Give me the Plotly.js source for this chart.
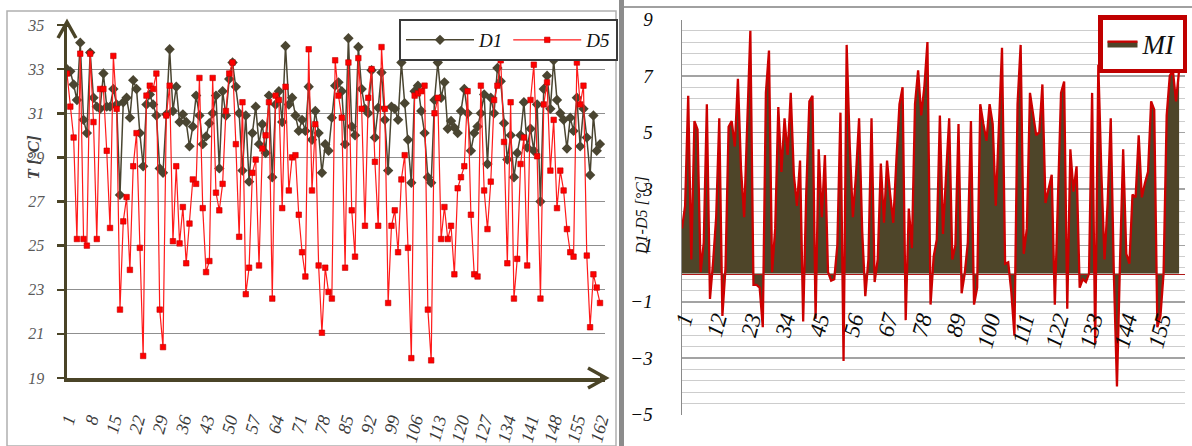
<!DOCTYPE html>
<html>
<head>
<meta charset="utf-8">
<script src="https://cdn.plot.ly/plotly-3.0.1.min.js"></script>
<style>
html,body{margin:0;padding:0;background:#fff;}
#chart{width:1192px;height:446px;}
</style>
</head>
<body>
<div id="chart"></div>
<script>
// ---- data ----
const D1 = [33.0,32.9,32.3,31.6,34.2,30.7,30.1,33.75,31.7,31.3,
 31.2,32.8,31.3,31.3,32.1,31.4,27.3,31.5,31.7,30.8,
 32.5,32.1,30.1,28.6,31.4,31.85,31.4,30.9,28.5,28.3,
 30.95,33.9,31.1,32.2,30.6,30.95,30.6,29.5,30.4,31.8,
 30.9,29.6,29.95,30.55,31.0,31.8,28.5,32.0,30.9,32.55,
 33.3,32.2,31.0,28.4,30.9,27.9,30.1,31.3,29.6,30.5,
 29.2,31.8,28.1,31.4,32.0,30.6,34.05,31.4,31.7,30.9,
 30.2,30.7,30.2,32.2,29.8,31.1,30.1,28.3,29.6,29.3,
 30.8,32.25,32.4,32.0,29.6,34.4,30.4,30.0,34.0,32.1,
 31.2,31.0,32.95,29.9,31.25,32.85,30.7,28.4,31.3,31.2,
 30.7,33.3,31.45,29.8,27.85,32.0,32.25,31.1,30.1,28.1,
 27.85,31.6,33.3,31.7,32.4,30.3,30.65,30.35,30.1,31.1,
 32.1,31.0,29.3,30.1,30.4,31.0,31.85,28.7,31.7,31.0,
 33.05,32.45,30.55,28.9,30.0,28.1,29.2,30.0,31.5,29.45,
 30.3,29.3,31.4,27.0,32.1,32.7,31.2,33.4,31.6,31.0,
 30.7,29.4,30.8,30.2,31.7,29.5,31.2,29.9,28.2,30.9,
 29.3,29.6];

const D5 = [32.8,31.3,29.9,25.3,33.7,25.3,25.0,33.7,30.6,25.3,
 32.1,32.1,29.3,25.8,33.6,31.2,22.1,26.1,27.2,23.9,
 28.6,30.1,24.9,20.0,31.8,32.25,32.1,32.8,22.1,20.4,
 30.9,32.25,25.2,28.6,25.1,26.75,24.2,26.0,28.0,27.8,
 32.6,26.7,23.8,24.3,32.6,27.4,26.6,27.8,31.1,32.8,
 33.3,29.6,25.4,31.5,22.8,24.0,28.3,28.9,24.1,29.4,
 30.0,31.5,22.6,31.8,31.6,26.7,32.2,27.5,29.0,29.1,
 26.4,24.7,23.6,33.9,27.5,30.5,24.1,21.05,24.0,22.9,
 22.6,33.4,31.8,30.8,24.0,33.3,26.6,24.5,33.5,31.2,
 25.9,31.7,33.0,28.8,25.9,34.0,31.2,22.4,25.9,26.6,
 24.7,28.0,29.1,24.9,19.9,31.8,31.9,32.0,32.25,22.1,
 19.8,31.0,31.7,25.3,26.75,25.3,25.9,23.7,27.6,28.1,
 28.6,32.0,26.4,23.7,23.6,32.25,27.5,25.75,27.9,31.6,
 32.25,33.4,29.7,24.2,31.5,22.6,24.4,28.7,29.9,24.1,
 31.6,33.2,29.05,22.6,31.4,32.4,28.4,30.7,26.7,28.4,
 27.5,25.75,24.7,24.5,33.3,31.4,32.25,24.55,21.3,23.7,
 23.1,22.4];

const MI = [1.6,2.4,6.3,0.5,5.4,5.1,0.05,1.1,6.0,-0.9,
 0.4,2.0,5.5,-1.5,0.2,5.2,5.4,4.5,6.9,3.7,
 2.0,5.3,8.6,-0.4,-0.4,-0.5,-1.9,6.4,7.9,0.05,
 1.6,5.9,3.6,5.5,4.2,6.4,3.5,2.4,4.0,-1.7,
 2.9,6.1,6.3,-1.6,4.4,2.0,4.2,0.05,-0.25,-0.2,
 1.0,5.7,-3.1,8.1,4.5,2.0,3.5,5.5,1.5,-0.8,
 0.5,5.5,-0.3,0.5,3.9,1.8,4.0,2.8,1.8,4.0,
 6.0,6.6,-1.65,2.3,0.9,6.0,7.2,5.6,6.6,8.2,
 -1.1,0.6,1.2,5.6,1.4,3.5,5.5,0.5,1.0,5.3,
 -0.7,0,1.1,5.4,-1.1,-0.5,6.0,5.3,4.7,6.0,
 5.3,2.4,5.0,8.0,0.35,0.4,-0.65,-2.2,6.0,8.1,
 0.7,1.6,6.4,5.6,4.9,5.0,6.7,2.5,3.0,3.5,
 -1.1,2.5,6.4,6.8,-1.25,4.4,2.9,3.8,-0.5,-0.2,
 -0.3,0.0,6.4,-2.5,7.4,3.5,0.5,2.5,5.5,0,
 -4.0,0.5,4.4,0.7,0.35,2.8,2.7,4.9,2.7,3.2,
 3.6,6.1,5.8,-1.9,-1.5,0,5.6,7.0,7.2,6.1,
 7.2];

const leftTicks = [1,8,15,22,29,36,43,50,57,64,71,78,85,92,99,106,113,120,127,134,141,148,155,162];
const rightTicks = [1,12,23,34,45,56,67,78,89,100,111,122,133,144,155];

const catsL = D1.map((_, i) => i + 1);
const catsR = MI.map((_, i) => i + 1);

// ---- geometry helpers (decoration only) ----
const W = 1192, H = 446;
const px = x => x / W;
const py = y => 1 - y / H;
function pathPx(pts) {
  return pts.map(s => s[0] + ' ' + px(s[1]).toFixed(5) + ',' + py(s[2]).toFixed(5)).join(' ');
}

const SERIF = 'Liberation Serif, Times New Roman, DejaVu Serif, serif';
const DARK = '#4a4531';

const traces = [
  {x: catsL, y: D1, name: 'D1', type: 'scatter', mode: 'lines+markers',
   xaxis: 'x', yaxis: 'y', legend: 'legend',
   line: {color: DARK, width: 1.5},
   marker: {symbol: 'diamond', size: 8, color: DARK}},
  {x: catsL, y: D5, name: 'D5', type: 'scatter', mode: 'lines+markers',
   xaxis: 'x', yaxis: 'y', legend: 'legend',
   line: {color: '#ff1a1a', width: 1.2},
   marker: {symbol: 'square', size: 5.5, color: '#ff0000', line: {color: '#c00000', width: 0.6}}},
  {x: catsR, y: MI, name: 'MI', type: 'scatter', mode: 'lines',
   xaxis: 'x2', yaxis: 'y2', legend: 'legend2',
   fill: 'tozeroy', fillcolor: '#4e4529',
   line: {color: '#cc0000', width: 2.3}}
];

const layout = {
  width: W, height: H, autosize: false,
  margin: {l: 0, r: 0, t: 0, b: 0, pad: 0},
  paper_bgcolor: '#ffffff', plot_bgcolor: 'rgba(0,0,0,0)',
  showlegend: true,
  xaxis: {
    domain: [px(67), px(605)], range: [1, 163.5], anchor: 'y',
    showgrid: false, zeroline: false,
    showline: true, linecolor: '#4a4427', linewidth: 3.5,
    tickmode: 'array', tickvals: leftTicks, ticktext: leftTicks.map(String),
    tickangle: -75, ticks: '', ticklabelstandoff: 21,
    tickfont: {family: SERIF, size: 18, style: 'italic', color: '#3a3a3a'}
  },
  yaxis: {
    domain: [py(378), py(25)], range: [19, 35], anchor: 'x',
    tick0: 19, dtick: 2,
    showgrid: true, gridcolor: '#8f8f8f', gridwidth: 1, zeroline: false,
    showline: true, linecolor: '#4a4427', linewidth: 3.5,
    ticks: 'outside', ticklen: 7, tickwidth: 2.5, tickcolor: '#4a4427',
    ticklabelstandoff: 9,
    tickfont: {family: SERIF, size: 16, style: 'italic', color: '#595959'}
  },
  xaxis2: {
    domain: [px(682), px(1185)], range: [1, 162.9], anchor: 'free',
    position: py(273.5),
    showgrid: false, zeroline: false,
    showline: true, linecolor: '#b01818', linewidth: 1.5,
    tickmode: 'array', tickvals: rightTicks, ticktext: rightTicks.map(String),
    tickangle: -75, ticks: '', ticklabelstandoff: 22,
    tickfont: {family: SERIF, size: 23, style: 'italic', color: '#0a0a0a'}
  },
  yaxis2: {
    domain: [py(414.7), py(19.5)], range: [-5, 9], anchor: 'x2',
    tick0: 1, dtick: 2,
    showgrid: true, gridcolor: '#a3a3a3', gridwidth: 1.5, zeroline: false,
    minor: {tick0: 1, dtick: 0.4, showgrid: true, gridcolor: '#cdcdcd', gridwidth: 1, ticks: ''},
    showline: true, linecolor: '#8a8a8a', linewidth: 1.5,
    ticks: '', ticklabelstandoff: 24,
    tickfont: {family: SERIF, size: 19, style: 'italic', color: '#0a0a0a'}
  },
  legend: {
    x: px(399), y: py(19), xanchor: 'left', yanchor: 'top',
    orientation: 'h', bgcolor: '#ffffff', bordercolor: '#3a3a3a', borderwidth: 2,
    itemwidth: 68, traceorder: 'normal',
    font: {family: SERIF, size: 19, style: 'italic', color: '#111111'}
  },
  legend2: {
    x: px(1098), y: py(15), xanchor: 'left', yanchor: 'top',
    orientation: 'h', bgcolor: '#ffffff', bordercolor: '#c00000', borderwidth: 4.5,
    itemwidth: 30,
    font: {family: SERIF, size: 27, style: 'italic', color: '#111111'}
  },
  annotations: [
    {xref: 'paper', yref: 'paper', x: px(21), y: py(158), text: 'T [°C]',
     textangle: -90, showarrow: false,
     font: {family: SERIF, size: 17, style: 'italic', weight: 'bold', color: '#404040'}},
    {xref: 'paper', yref: 'paper', x: px(641), y: py(216), text: 'D1-D5 [°C]',
     textangle: -90, showarrow: false,
     font: {family: SERIF, size: 16, style: 'italic', color: '#111111'}}
  ],
  shapes: [
    {type: 'rect', xref: 'paper', yref: 'paper', x0: px(7), x1: px(616), y0: py(446), y1: py(11),
     line: {color: '#b0b0b0', width: 1.5}, fillcolor: 'rgba(0,0,0,0)'},
    {type: 'rect', xref: 'paper', yref: 'paper', x0: px(619), x1: px(624), y0: 0, y1: 1,
     line: {width: 0}, fillcolor: '#8c8c8c'},
    {type: 'line', xref: 'paper', yref: 'paper', x0: px(624), x1: 1, y0: py(7), y1: py(7),
     line: {color: '#a0a0a0', width: 2}},
    {type: 'path', xref: 'paper', yref: 'paper',
     path: pathPx([['M',58,38],['L',67,22],['L',76,38],['M',67,22],['L',67,27]]),
     line: {color: '#4a4427', width: 3.5}},
    {type: 'path', xref: 'paper', yref: 'paper',
     path: pathPx([['M',588,368],['L',606,378],['L',588,388],['M',600,378],['L',606,378]]),
     line: {color: '#4a4427', width: 3.5}}
  ]
};

Plotly.newPlot('chart', traces, layout, {displayModeBar: false, staticPlot: true});
</script>
</body>
</html>
